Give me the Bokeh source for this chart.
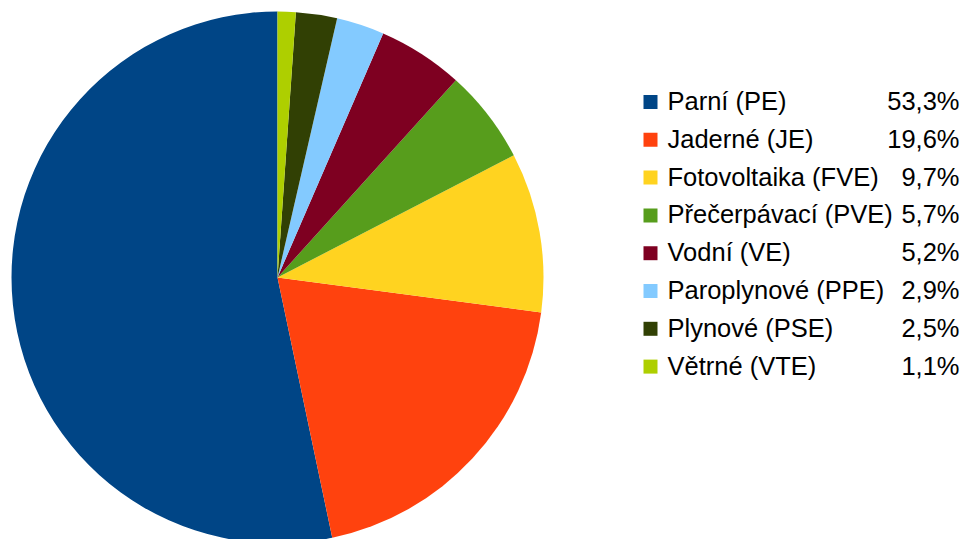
import math
from bokeh.plotting import figure
from bokeh.models import ColumnDataSource
from bokeh.core.properties import value
from bokeh.embed import file_html
from bokeh.resources import INLINE

categories = ["Parní (PE)", "Jaderné (JE)", "Fotovoltaika (FVE)", "Přečerpávací (PVE)",
              "Vodní (VE)", "Paroplynové (PPE)", "Plynové (PSE)", "Větrné (VTE)"]
shares = [53.3, 19.6, 9.7, 5.7, 5.2, 2.9, 2.5, 1.1]
colors = ["#004586", "#ff420e", "#ffd320", "#579d1c", "#7e0021", "#83caff", "#314004", "#aecf00"]
pct_labels = [f"{v:.1f}".replace(".", ",") + "%" for v in shares]

W, H = 967, 539
p = figure(width=W, height=H, x_range=(0, W), y_range=(0, H),
           output_backend="svg", toolbar_location=None, min_border=0)
p.axis.visible = False
p.grid.visible = False
p.outline_line_color = None
p.background_fill_color = "white"

total = sum(shares)
starts, ends = [], []
acc = 0.0
for v in shares:
    starts.append(math.pi / 2 + 2 * math.pi * acc / total)
    acc += v
    ends.append(math.pi / 2 + 2 * math.pi * acc / total)

cx, cy, r = 277, H - 277, 266
src = ColumnDataSource(dict(start=starts, end=ends, color=colors))
p.wedge(x=cx, y=cy, radius=r, start_angle="start", end_angle="end",
        direction="anticlock", fill_color="color", line_color=None, source=src)

step = 37.8
n = len(categories)
sq_y = [H - (101.5 + i * step) for i in range(n)]
txt_y = [H - (100.5 + i * step) for i in range(n)]
leg = ColumnDataSource(dict(sy=sq_y, ty=txt_y, color=colors, name=categories, pct=pct_labels))
p.rect(x=650, y="sy", width=14, height=14, width_units="screen", height_units="screen",
       fill_color="color", line_color=None, source=leg)
p.text(x=667, y="ty", text="name", text_font=value("Liberation Sans"), text_font_size="25.5px",
       text_baseline="middle", text_align="left", text_color="black", source=leg)
p.text(x=959, y="ty", text="pct", text_font=value("Liberation Sans"), text_font_size="25.5px",
       text_baseline="middle", text_align="right", text_color="black", source=leg)

open("out.html", "w").write(file_html(p, INLINE))
